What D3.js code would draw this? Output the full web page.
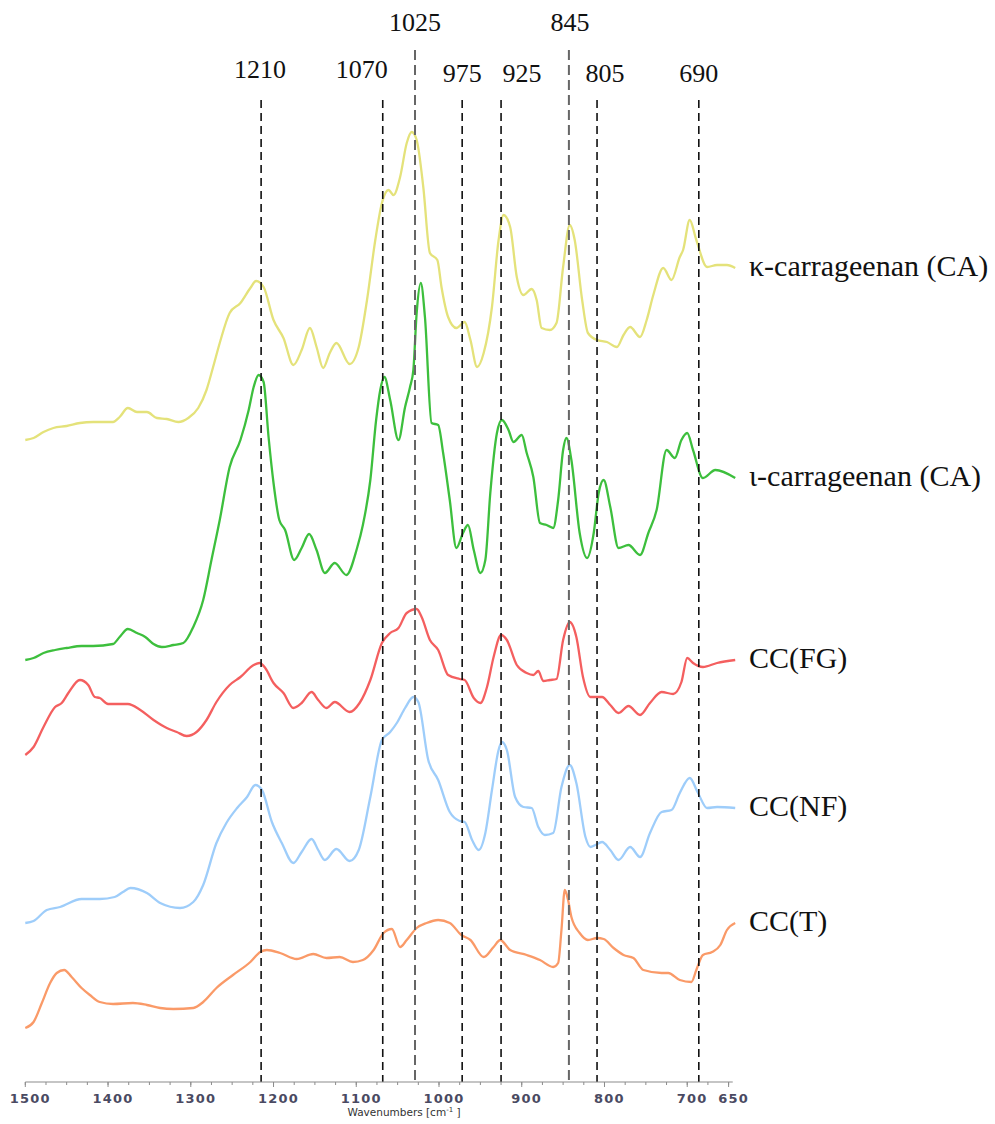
<!DOCTYPE html>
<html>
<head>
<meta charset="utf-8">
<script src="https://cdn.jsdelivr.net/npm/d3@7"></script>
<style>
  body { margin: 0; background: #fff; }
</style>
</head>
<body>
<div id="chart"></div>
<script>
// spectra, [wavenumber cm-1, stacked absorbance a.u.]
var kappa = [[1500,.642],[1490,.644],[1478,.650],[1466,.654],[1450,.656],[1434,.659],[1418,.660],[1394,.660],[1386,.665],[1376,.674],[1365,.670],[1353,.670],[1341,.664],[1329,.663],[1315,.660],[1303,.664],[1291,.674],[1281,.692],[1273,.715],[1265,.739],[1253,.769],[1240,.779],[1228,.794],[1221,.801],[1212,.795],[1200,.762],[1188,.744],[1176,.717],[1166,.732],[1156,.754],[1148,.735],[1140,.714],[1132,.729],[1124,.739],[1108,.718],[1097,.735],[1087,.782],[1077,.842],[1069,.879],[1061,.892],[1055,.887],[1047,.905],[1039,.939],[1033,.950],[1027,.942],[1019,.895],[1011,.829],[1002,.822],[997,.795],[989,.765],[979,.754],[969,.760],[962,.742],[954,.715],[946,.729],[936,.775],[928,.842],[922,.867],[914,.855],[906,.805],[898,.787],[888,.793],[882,.782],[876,.754],[866,.752],[858,.759],[850,.815],[842,.857],[836,.842],[827,.782],[820,.749],[809,.742],[797,.740],[785,.735],[777,.747],[769,.755],[757,.745],[749,.762],[741,.787],[729,.814],[719,.802],[709,.825],[705,.832],[697,.862],[689,.842],[676,.815],[664,.817],[652,.817],[642,.814]];

var iota = [[1500,.422],[1490,.424],[1478,.429],[1464,.432],[1450,.434],[1432,.436],[1418,.436],[1394,.438],[1386,.445],[1376,.453],[1365,.449],[1355,.445],[1345,.438],[1335,.435],[1321,.437],[1309,.439],[1297,.455],[1285,.482],[1275,.522],[1265,.562],[1253,.615],[1240,.642],[1230,.672],[1224,.695],[1218,.707],[1212,.700],[1206,.645],[1200,.599],[1193,.562],[1186,.552],[1175,.522],[1166,.534],[1157,.548],[1148,.532],[1138,.509],[1126,.519],[1112,.507],[1099,.534],[1092,.557],[1083,.602],[1076,.662],[1071,.692],[1066,.705],[1059,.682],[1049,.642],[1041,.675],[1035,.695],[1031,.712],[1027,.769],[1022,.799],[1017,.765],[1009,.659],[1001,.657],[995,.629],[987,.582],[979,.534],[971,.549],[965,.557],[958,.532],[950,.509],[944,.522],[938,.589],[930,.649],[924,.662],[916,.652],[910,.640],[900,.647],[894,.629],[886,.605],[878,.559],[870,.557],[862,.554],[856,.582],[850,.632],[846,.644],[840,.622],[830,.549],[821,.524],[813,.549],[807,.589],[801,.602],[793,.575],[783,.534],[771,.537],[757,.527],[747,.549],[737,.572],[725,.632],[715,.624],[707,.642],[700,.649],[693,.632],[681,.604],[666,.612],[642,.604]];

var ccFG = [[1500,.327],[1490,.335],[1478,.355],[1464,.375],[1456,.379],[1448,.389],[1434,.402],[1424,.397],[1416,.385],[1410,.384],[1400,.378],[1390,.378],[1376,.378],[1361,.372],[1345,.362],[1329,.354],[1317,.350],[1305,.346],[1293,.350],[1281,.362],[1269,.380],[1253,.397],[1240,.405],[1224,.417],[1217,.419],[1210,.414],[1200,.399],[1188,.389],[1176,.374],[1166,.379],[1154,.390],[1146,.382],[1136,.374],[1126,.380],[1108,.370],[1096,.379],[1083,.402],[1069,.439],[1059,.449],[1049,.454],[1039,.469],[1027,.473],[1021,.465],[1011,.442],[1001,.432],[989,.407],[975,.403],[969,.402],[958,.384],[950,.379],[942,.395],[934,.425],[925,.447],[918,.442],[906,.417],[894,.409],[886,.407],[880,.411],[874,.401],[866,.402],[858,.403],[850,.442],[842,.460],[834,.445],[826,.405],[817,.385],[803,.385],[793,.377],[783,.369],[771,.376],[757,.367],[745,.379],[731,.390],[717,.388],[707,.400],[700,.424],[693,.419],[681,.415],[664,.419],[642,.422]];

var ccNF = [[1500,.159],[1490,.161],[1474,.172],[1458,.175],[1432,.183],[1410,.183],[1392,.185],[1382,.190],[1373,.194],[1353,.189],[1337,.179],[1313,.174],[1297,.180],[1285,.197],[1269,.239],[1257,.259],[1244,.274],[1232,.285],[1222,.297],[1214,.292],[1202,.260],[1190,.239],[1176,.219],[1166,.230],[1154,.243],[1146,.232],[1138,.222],[1124,.233],[1108,.221],[1097,.232],[1083,.285],[1069,.342],[1059,.350],[1051,.359],[1041,.374],[1031,.385],[1025,.380],[1013,.322],[1001,.302],[987,.270],[975,.261],[969,.260],[960,.242],[952,.232],[944,.249],[936,.292],[928,.332],[924,.340],[918,.332],[908,.285],[898,.275],[888,.274],[880,.255],[872,.247],[862,.249],[852,.295],[842,.317],[834,.299],[823,.245],[817,.235],[811,.237],[803,.240],[793,.232],[783,.222],[769,.235],[757,.225],[745,.249],[731,.270],[719,.272],[709,.289],[697,.304],[687,.289],[676,.274],[664,.275],[642,.274]];

var ccT = [[1500,.054],[1490,.060],[1480,.079],[1470,.099],[1462,.109],[1453,.112],[1444,.105],[1432,.094],[1422,.087],[1410,.080],[1394,.078],[1370,.079],[1353,.077],[1337,.074],[1321,.073],[1297,.074],[1285,.080],[1269,.094],[1249,.107],[1228,.120],[1216,.130],[1208,.132],[1192,.129],[1172,.123],[1152,.128],[1136,.124],[1120,.125],[1104,.120],[1092,.122],[1079,.132],[1067,.149],[1057,.153],[1047,.135],[1039,.142],[1027,.154],[1015,.159],[1001,.162],[987,.159],[973,.147],[962,.142],[946,.125],[934,.135],[926,.142],[914,.132],[894,.127],[878,.122],[862,.115],[856,.119],[852,.152],[848,.192],[844,.182],[840,.165],[830,.149],[820,.142],[809,.144],[801,.143],[789,.134],[777,.127],[765,.124],[753,.112],[731,.109],[723,.109],[709,.102],[695,.100],[689,.112],[681,.127],[670,.130],[660,.137],[652,.152],[642,.159]];

var seriesNames = ["κ-carrageenan (CA)", "ι-carrageenan (CA)", "CC(FG)", "CC(NF)", "CC(T)"];
var seriesColors = ["#e4e27a", "#3dbf3d", "#f45f5f", "#9ecdfa", "#fa9a68"];

// band markers: label text and where the dashed line sits on the axis
var peakLabels = [1210, 1070, 1025, 975, 925, 845, 805, 690];
var peakLinePos = [1215, 1068, 1029, 972, 925, 843, 809, 686];
var peakMajor = [false, false, true, false, false, true, false, false];
var peakLabelDx = [-1, -21, 0, 0, 21, 1, 8, 0];

var axisMajor = [1500, 1400, 1300, 1200, 1100, 1000, 900, 800, 700, 650];
var axisMinor = d3.range(1500, 649, -25);

var width = 995, height = 1124;

var x = d3.scaleLinear().domain([1500, 650]).range([25.3, 728.6]);
var y = d3.scaleLinear().domain([0, 1]).range([1082, 82]);

var svg = d3.select('#chart').append('svg')
	.attr('width', width)
	.attr('height', height);

svg.append('rect').attr('width', width).attr('height', height).attr('fill', '#fff');

// spectra
var line = d3.line()
	.x(function(d){ return x(d[0]); })
	.y(function(d){ return y(d[1]); })
	.curve(d3.curveMonotoneX);

var spectra = [kappa, iota, ccFG, ccNF, ccT];

svg.selectAll('path.spec')
	.data(spectra)
	.enter()
	.append('path')
	.attr('class', 'spec')
	.attr('d', line)
	.attr('fill', 'none')
	.attr('stroke', function(d, i){ return seriesColors[i]; })
	.attr('stroke-width', 2.3)
	.attr('stroke-linejoin', 'round');

// series labels, level with the end of each trace
svg.selectAll('text.series')
	.data(spectra)
	.enter()
	.append('text')
	.attr('class', 'series')
	.attr('x', 749)
	.attr('y', function(d){ return y(d[d.length - 1][1]); })
	.attr('dy', '0.25em')
	.attr('font-family', '"Liberation Serif", "Times New Roman", serif')
	.attr('font-size', 30)
	.attr('fill', '#111')
	.text(function(d, i){ return seriesNames[i]; });

// dashed band lines
svg.selectAll('line.peak')
	.data(peakLinePos)
	.enter()
	.append('line')
	.attr('class', 'peak')
	.attr('x1', function(d){ return x(d); })
	.attr('x2', function(d){ return x(d); })
	.attr('y1', function(d, i){ return peakMajor[i] ? 50 : 100; })
	.attr('y2', y(0))
	.attr('stroke', function(d, i){ return peakMajor[i] ? '#666' : '#111'; })
	.attr('stroke-width', function(d, i){ return peakMajor[i] ? 2 : 1.6; })
	.attr('stroke-dasharray', function(d, i){ return peakMajor[i] ? '10,5' : '8,5'; });

svg.selectAll('text.peak')
	.data(peakLabels)
	.enter()
	.append('text')
	.attr('class', 'peak')
	.attr('x', function(d, i){ return x(peakLinePos[i]) + peakLabelDx[i]; })
	.attr('y', function(d, i){ return peakMajor[i] ? 31 : (i < 2 ? 78 : 82); })
	.attr('text-anchor', 'middle')
	.attr('font-family', '"Liberation Serif", "Times New Roman", serif')
	.attr('font-size', 26)
	.attr('fill', '#111')
	.text(function(d){ return d; });

// x axis
var axisG = svg.append('g').attr('transform', 'translate(0,' + y(0) + ')');

axisG.append('line')
	.attr('x1', x(1500)).attr('x2', x(645))
	.attr('stroke', '#8c8c8c').attr('stroke-width', 1.2);

axisG.selectAll('line.minor')
	.data(axisMinor)
	.enter()
	.append('line')
	.attr('x1', function(d){ return x(d); })
	.attr('x2', function(d){ return x(d); })
	.attr('y1', 0).attr('y2', 3)
	.attr('stroke', '#8c8c8c');

axisG.selectAll('line.major')
	.data(axisMajor)
	.enter()
	.append('line')
	.attr('x1', function(d){ return x(d); })
	.attr('x2', function(d){ return x(d); })
	.attr('y1', 0).attr('y2', 5)
	.attr('stroke', '#8c8c8c');

axisG.selectAll('text.tick')
	.data(axisMajor)
	.enter()
	.append('text')
	.attr('x', function(d){ return x(d) + 5; })
	.attr('y', 21)
	.attr('text-anchor', 'middle')
	.attr('font-family', '"DejaVu Sans", Verdana, sans-serif')
	.attr('font-weight', 'bold')
	.attr('font-size', 13)
	.attr('letter-spacing', 1.2)
	.attr('fill', '#4a4a62')
	.text(function(d){ return d; });

var title = axisG.append('text')
	.attr('x', 404)
	.attr('y', 34)
	.attr('text-anchor', 'middle')
	.attr('font-family', '"DejaVu Sans", Verdana, sans-serif')
	.attr('font-size', 10.5)
	.attr('fill', '#333');
title.append('tspan').text('Wavenumbers [cm');
title.append('tspan').attr('dy', -4).attr('font-size', 7).text('-1');
title.append('tspan').attr('dy', 4).text(' ]');
</script>
</body>
</html>
